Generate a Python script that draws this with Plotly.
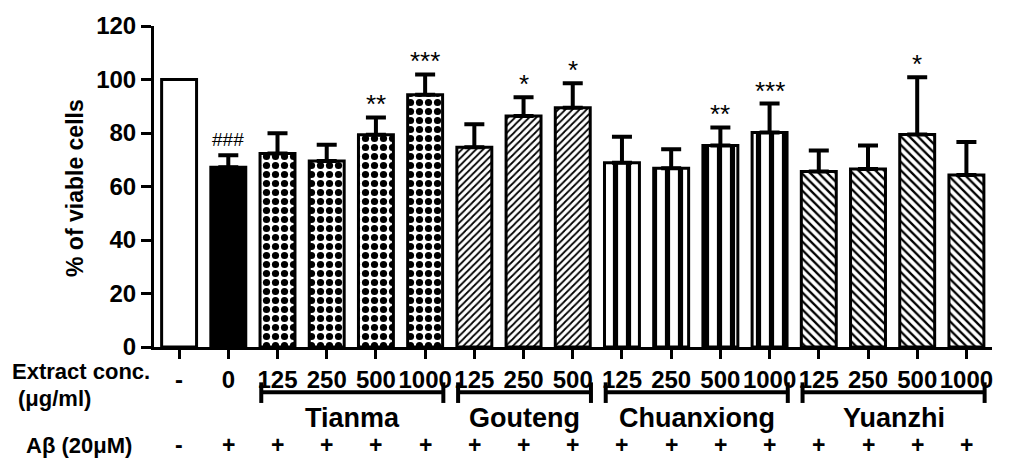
import plotly.graph_objects as go

# ---------------- data ----------------
conc_labels = ["-", "0", "125", "250", "500", "1000", "125", "250", "500",
               "125", "250", "500", "1000", "125", "250", "500", "1000"]
group_of_bar = ["Control", "Abeta", "Tianma", "Tianma", "Tianma", "Tianma",
                "Gouteng", "Gouteng", "Gouteng",
                "Chuanxiong", "Chuanxiong", "Chuanxiong", "Chuanxiong",
                "Yuanzhi", "Yuanzhi", "Yuanzhi", "Yuanzhi"]
viable = [100, 67.2, 72.3, 69.5, 79.3, 94.3, 74.7, 86.4, 89.4,
          68.9, 66.8, 75.3, 80.2, 65.6, 66.5, 79.4, 64.3]
sem = [0, 4.5, 7.6, 6.1, 6.5, 7.6, 8.6, 7.0, 9.2,
       9.7, 7.1, 6.8, 10.8, 7.9, 8.8, 21.4, 12.3]
signif = ["", "###", "", "", "**", "***", "", "*", "*",
          "", "", "**", "***", "", "", "*", ""]
abeta_row = ["-", "+", "+", "+", "+", "+", "+", "+", "+",
             "+", "+", "+", "+", "+", "+", "+", "+"]
extract_groups = ["Tianma", "Gouteng", "Chuanxiong", "Yuanzhi"]
y_ticks = [0, 20, 40, 60, 80, 100, 120]

# ---------------- styles ----------------
FONT = "Liberation Sans, Arial, sans-serif"
pattern_style = {
    "Control":    dict(shape="",   size=8, solidity=0.3, color="white"),
    "Abeta":      dict(shape="",   size=8, solidity=0.3, color="black"),
    "Tianma":     dict(shape=".",  size=9, solidity=0.5, color="white"),
    "Gouteng":    dict(shape="/",  size=5, solidity=0.35, color="white"),
    "Chuanxiong": dict(shape="|",  size=13, solidity=0.4, color="white"),
    "Yuanzhi":    dict(shape="\\", size=6, solidity=0.38, color="white"),
}

fig = go.Figure()
for g, st in pattern_style.items():
    idx = [i for i, gg in enumerate(group_of_bar) if gg == g]
    marker = dict(color=st["color"], line=dict(color="black", width=3))
    if st["shape"]:
        marker["pattern"] = dict(shape=st["shape"], size=st["size"],
                                 solidity=st["solidity"], fgcolor="black",
                                 bgcolor="white", fgopacity=1)
    err = [sem[i] for i in idx]
    fig.add_trace(go.Bar(
        x=idx, y=[viable[i] for i in idx], width=0.71,
        marker=marker,
        error_y=dict(type="data", symmetric=False, array=err,
                     arrayminus=[0] * len(idx), color="black",
                     thickness=4, width=10, visible=any(e > 0 for e in err)),
        showlegend=False,
    ))

# plot-area geometry (pixels)
W, H = 1023, 461
ML, MR, MT, MB = 154, 31, 20, 114
PW = W - ML - MR
PH = H - MT - MB


def paper_x(px):
    return (px - ML) / PW


def paper_y(py):
    return (H - MB - py) / PH


annotations = []
# significance marks
for xi, (v, e, s) in enumerate(zip(viable, sem, signif)):
    if s:
        is_hash = s.startswith("#")
        annotations.append(dict(
            x=xi, y=v + e, xref="x", yref="y", text=s, showarrow=False,
            yanchor="bottom", yshift=3 if is_hash else -4,
            font=dict(family=FONT, size=19 if is_hash else 26,
                      color="black")))

# A-beta row
for xi, t in enumerate(abeta_row):
    annotations.append(dict(
        x=xi, y=paper_y(447), xref="x", yref="paper", text=t, showarrow=False,
        yanchor="middle", font=dict(family=FONT, size=23, color="black",
                                    weight="bold")))

# left row labels
for txt, px, py in [("Extract conc.", 10, 372), ("(\u03bcg/ml)", 16, 399),
                    ("A\u03b2 (20\u03bcM)", 24, 447)]:
    annotations.append(dict(
        x=paper_x(px), y=paper_y(py), xref="paper", yref="paper", text=txt,
        showarrow=False, xanchor="left", yanchor="middle",
        font=dict(family=FONT, size=22, color="black", weight="bold")))

# y-axis title
annotations.append(dict(
    x=paper_x(75), y=paper_y(185), xref="paper", yref="paper",
    text="% of viable cells", textangle=-90, showarrow=False,
    xanchor="center", yanchor="middle",
    font=dict(family=FONT, size=23, color="black", weight="bold")))

# group brackets and names
shapes = []
for g in extract_groups:
    idx = [i for i, gg in enumerate(group_of_bar) if gg == g]
    x0, x1 = idx[0] - 0.33, idx[-1] + 0.37
    yb = paper_y(393)
    shapes.append(dict(type="line", xref="x", yref="paper", x0=x0, x1=x1,
                       y0=yb, y1=yb, line=dict(color="black", width=4)))
    for xe in (x0, x1):
        shapes.append(dict(type="line", xref="x", yref="paper", x0=xe, x1=xe,
                           y0=paper_y(383), y1=paper_y(404),
                           line=dict(color="black", width=4)))
    annotations.append(dict(
        x=(x0 + x1) / 2, y=paper_y(419), xref="x", yref="paper", text=g,
        showarrow=False, yanchor="middle",
        font=dict(family=FONT, size=27, color="black", weight="bold")))

fig.update_layout(
    width=W, height=H,
    margin=dict(l=ML, r=MR, t=MT, b=MB, pad=0),
    plot_bgcolor="white", paper_bgcolor="white",
    barmode="overlay",
    annotations=annotations, shapes=shapes,
    xaxis=dict(range=[-0.51, 16.52], tickvals=list(range(len(conc_labels))),
               ticktext=conc_labels,
               showline=True, linewidth=3, linecolor="black",
               ticks="outside", ticklen=9, tickwidth=3, tickcolor="black",
               showgrid=False, zeroline=False,
               tickfont=dict(family=FONT, size=24, color="black", weight="bold")),
    yaxis=dict(range=[0, 120], tickvals=y_ticks,
               showline=True, linewidth=3, linecolor="black",
               ticks="outside", ticklen=10, tickwidth=3, tickcolor="black",
               showgrid=False, zeroline=False,
               tickfont=dict(family=FONT, size=24, color="black", weight="bold")),
)

fig.write_html("out.html")
